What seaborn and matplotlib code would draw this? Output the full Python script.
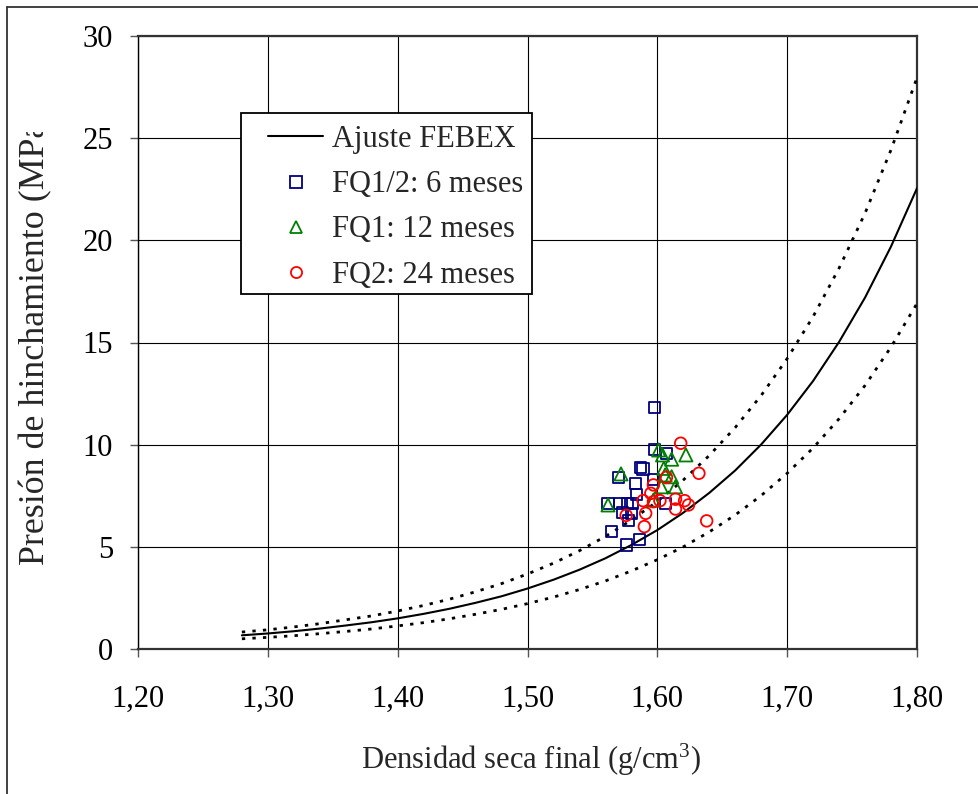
import matplotlib
matplotlib.use("Agg")
import matplotlib.pyplot as plt
import seaborn as sns
import pandas as pd
from matplotlib.patches import Rectangle
from matplotlib.lines import Line2D

# --- FEBEX fit and its band (dry density in g/cm3, pressure in MPa) ---
densidad = [1.28, 1.30, 1.32, 1.34, 1.36, 1.38, 1.40, 1.42, 1.44, 1.46, 1.48,
            1.50, 1.52, 1.54, 1.56, 1.58, 1.60, 1.62, 1.64, 1.66, 1.68, 1.70,
            1.72, 1.74, 1.76, 1.78, 1.80]
ajuste = [0.67, 0.76, 0.87, 1.00, 1.15, 1.31, 1.50, 1.72, 1.97, 2.26, 2.58,
          2.96, 3.39, 3.88, 4.44, 5.09, 5.82, 6.67, 7.64, 8.74, 10.01, 11.46,
          13.12, 15.03, 17.20, 19.70, 22.55]
banda_sup = [0.83, 0.94, 1.08, 1.24, 1.43, 1.62, 1.86, 2.13, 2.44, 2.80, 3.20,
             3.67, 4.20, 4.81, 5.51, 6.31, 7.22, 8.27, 9.47, 10.84, 12.41, 14.21,
             16.27, 18.64, 21.33, 24.43, 27.96]
banda_inf = [0.50, 0.57, 0.65, 0.75, 0.86, 0.98, 1.13, 1.29, 1.48, 1.70, 1.94,
             2.22, 2.54, 2.91, 3.33, 3.82, 4.37, 5.00, 5.73, 6.56, 7.51, 8.60,
             9.84, 11.27, 12.90, 14.78, 16.91]

# --- measured samples ---
fq12_dens = [1.598, 1.598, 1.607, 1.587, 1.589, 1.570, 1.583, 1.597, 1.584,
             1.562, 1.571, 1.577, 1.581, 1.606, 1.573, 1.580, 1.578, 1.565,
             1.586, 1.576]
fq12_pres = [11.83, 9.77, 9.58, 8.89, 8.81, 8.40, 8.08, 8.31, 7.54,
             7.13, 7.13, 7.13, 7.13, 7.13, 6.67, 6.64, 6.31, 5.74,
             5.37, 5.09]

fq1_dens = [1.601, 1.604, 1.611, 1.622, 1.572, 1.605, 1.606, 1.611, 1.603,
            1.614, 1.597, 1.562]
fq1_pres = [9.74, 9.50, 9.29, 9.50, 8.57, 8.84, 8.52, 8.43, 7.94,
            7.94, 7.29, 7.05]

fq2_dens = [1.618, 1.632, 1.607, 1.597, 1.595, 1.589, 1.597, 1.602, 1.614,
            1.621, 1.624, 1.614, 1.591, 1.576, 1.590, 1.638]
fq2_pres = [10.07, 8.60, 8.40, 8.03, 7.62, 7.26, 7.21, 7.26, 7.33,
            7.26, 7.05, 6.85, 6.64, 6.54, 5.99, 6.27]

x_ticks = [1.20, 1.30, 1.40, 1.50, 1.60, 1.70, 1.80]
y_ticks = [0, 5, 10, 15, 20, 25, 30]

sns.set_theme(style="white")
plt.rcParams["font.family"] = ["Liberation Serif", "DejaVu Serif"]
plt.rcParams["mathtext.fontset"] = "custom"
plt.rcParams["mathtext.rm"] = "Liberation Serif"
plt.rcParams["mathtext.it"] = "Liberation Serif:italic"

W, H = 979, 794
fig = plt.figure(figsize=(W / 100, H / 100), dpi=100)
fig.patch.set_facecolor("white")

def fx(px):
    return px / W

def fy(py):
    return 1 - py / H

ax = fig.add_axes([fx(138), fy(649), fx(917) - fx(138), fy(36) - fy(649)])
ax.set_facecolor("white")

curvas = pd.DataFrame({"densidad": densidad, "ajuste": ajuste,
                       "sup": banda_sup, "inf": banda_inf})

sns.lineplot(data=curvas, x="densidad", y="sup", ax=ax, color="black",
             lw=2.0, linestyle=(0, (1.2, 2.6)), zorder=3)
sns.lineplot(data=curvas, x="densidad", y="inf", ax=ax, color="black",
             lw=2.0, linestyle=(0, (1.2, 2.6)), zorder=3)
sns.lineplot(data=curvas, x="densidad", y="ajuste", ax=ax, color="black",
             lw=1.5, zorder=3)

series = [
    (fq12_dens, fq12_pres, "s", "#000080", 64),
    (fq1_dens, fq1_pres, "^", "#008000", 90),
    (fq2_dens, fq2_pres, "o", "#FF0000", 70),
]
for xs, ys, mk, col, sz in series:
    sns.scatterplot(x=xs, y=ys, ax=ax, marker=mk, s=sz, facecolors="none",
                    edgecolor=col, linewidth=1.3, zorder=4)

ax.set_xlim(1.20, 1.80)
ax.set_ylim(0, 30)
ax.set_xticks(x_ticks)
ax.set_yticks(y_ticks)
ax.set_xticklabels([f"{v:.2f}".replace(".", ",") for v in x_ticks])
ax.set_yticklabels([str(v) for v in y_ticks])
ax.set_xlabel("")
ax.set_ylabel("")
ax.grid(True, color="black", lw=0.8, zorder=0)
ax.set_axisbelow(True)
ax.tick_params(axis="both", which="major", direction="out", length=6,
               width=1.0, color="#555555", labelsize=22, labelcolor="black",
               bottom=True, left=True)
ax.tick_params(axis="x", pad=20)
ax.tick_params(axis="y", pad=12)
for name, sp in ax.spines.items():
    sp.set_visible(True)
    sp.set_color("#333333")
    sp.set_linewidth(1.6)
ax.spines["left"].set_color("black")
ax.spines["left"].set_linewidth(1.0)

# legend frame drawn as a box, entries placed inside it
ax.add_patch(Rectangle((fx(241), fy(294)), fx(532) - fx(241), fy(113) - fy(294),
                       transform=fig.transFigure, facecolor="white",
                       edgecolor="black", lw=1.3, zorder=5))
handles = [
    Line2D([], [], color="black", lw=1.5),
    Line2D([], [], marker="s", ls="none", markersize=8, markerfacecolor="none",
           markeredgecolor="#000080", markeredgewidth=1.3),
    Line2D([], [], marker="^", ls="none", markersize=9, markerfacecolor="none",
           markeredgecolor="#008000", markeredgewidth=1.3),
    Line2D([], [], marker="o", ls="none", markersize=8, markerfacecolor="none",
           markeredgecolor="#FF0000", markeredgewidth=1.3),
]
labels = ["Ajuste FEBEX", "FQ1/2: 6 meses", "FQ1: 12 meses", "FQ2: 24 meses"]
leg = fig.legend(handles, labels, loc="upper left",
                 bbox_to_anchor=(fx(268), fy(125)), frameon=False,
                 fontsize=22, borderpad=0, borderaxespad=0,
                 handlelength=1.8, handletextpad=0.3, labelspacing=0.53)
leg.set_zorder(6)

# axis titles
fig.text(fx(531), fy(769), "Densidad seca final (g/cm$^{\\mathrm{3}}$)",
         ha="center", va="baseline", fontsize=22)

# the y title sits in a narrow strip that cuts it off at its top edge
strip = fig.add_axes([0, fy(794), fx(100), fy(132) - fy(794)])
strip.set_axis_off()
strip.set_xlim(0, 100)
strip.set_ylim(794, 132)
strip.text(36, 565, "Presión de hinchamiento (MPa)", rotation=90,
           rotation_mode="anchor", ha="left", va="center", fontsize=25.8,
           clip_on=True)

# outer chart frame (left and top edges)
fig.add_artist(Line2D([fx(7.5), fx(7.5)], [0, fy(6.5)], transform=fig.transFigure,
                      color="#333333", lw=1.3))
fig.add_artist(Line2D([fx(7.5), 1], [fy(6.5), fy(6.5)], transform=fig.transFigure,
                      color="#333333", lw=1.3))

fig.savefig("out.png", dpi=100, facecolor="white")
